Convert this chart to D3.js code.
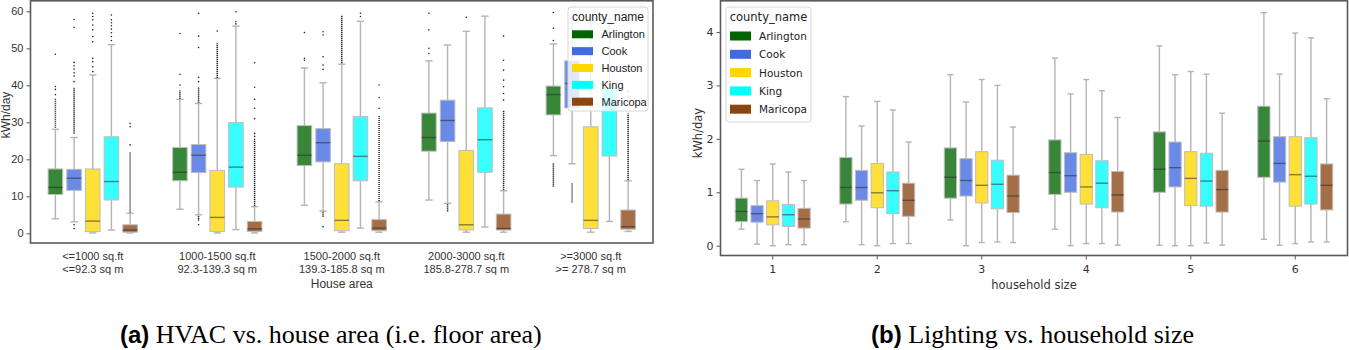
<!DOCTYPE html>
<html>
<head>
<meta charset="utf-8">
<script src="https://cdn.jsdelivr.net/npm/d3@7"></script>
<style>
  body { margin: 0; background: #fff; }
  svg { display: block; }
</style>
</head>
<body>
<svg id="fig" width="1349" height="350"></svg>
<script>
// ---- data ----
const counties = ["Arlington", "Cook", "Houston", "King", "Maricopa"];
const countyColors = ["#006400", "#4169e1", "#ffd700", "#00ffff", "#8b4513"];

// (a) HVAC vs. house area
const areaLine1 = ["<=1000 sq.ft", "1000-1500 sq.ft", "1500-2000 sq.ft", "2000-3000 sq.ft", ">=3000 sq.ft"];
const areaLine2 = ["<=92.3 sq m", "92.3-139.3 sq m", "139.3-185.8 sq m", "185.8-278.7 sq m", ">= 278.7 sq m"];
const hvacTicks = [0, 10, 20, 30, 40, 50, 60];

// [lower whisker, Q1, median, Q3, upper whisker] per house area
const hvacArlington = [[3.9, 10.5, 12.4, 17.4, 28.1], [6.5, 14.2, 16.5, 23.2, 36.2], [7.6, 18.3, 21.1, 29.1, 44.7], [9, 22.2, 25.9, 32.5, 46.6], [21, 32, 37.5, 39.8, 51.2]];
const hvacCook = [[3.1, 11.6, 14.9, 17.3, 25.9], [5, 16.4, 21.1, 24, 35.1], [6, 19.3, 24.5, 28.3, 40.7], [8.1, 24.8, 30.5, 36, 50.9], [18.8, 33.9, 40.5, 46.6, 58]];
const hvacHouston = [[0.1, 0.45, 3.3, 17.4, 42.8], [0.1, 0.5, 4.3, 17, 41.9], [0.3, 0.7, 3.5, 18.8, 45.7], [0.3, 0.9, 2.3, 22.4, 54.6], [0.3, 1.3, 3.5, 28.8, 57]];
const hvacKing = [[0.9, 9, 14, 26.1, 51], [1, 12.5, 17.9, 29.9, 56], [1.4, 14.2, 20.8, 31.6, 57.3], [1.7, 16.5, 25.3, 33.9, 58.7], [3.2, 20.9, 35, 39.3, 58]];
const hvacMaricopa = [[0.1, 0.3, 0.9, 2.3, 5.4], [0.1, 0.5, 1.2, 3.2, 7.2], [0.3, 0.7, 1.4, 3.7, 8.5], [0.3, 0.9, 1.3, 5.2, 11.5], [0.5, 1.1, 1.8, 6.3, 14.2]];

// single outliers per house area
const fliersArlington = [[48.4, 39.7, 38.9, 37.5], [54, 43, 40.1], [54.3, 47.3, 46.8], [59.5, 55, 50, 48.6], [59.7, 55.4, 52.1]];
const fliersCook = [[57.8, 55.7, 46.2, 45.3, 44.4, 43.4, 42.5, 41, 2.3, 1.3], [59.5, 53.3, 50.2, 42.2, 41, 4.5, 4.0, 3.6, 2.3], [54.5, 53.6, 47.7, 45.5, 44.3, 1.8], [], []];
const fliersHouston = [[59.5, 58.6, 57.7, 56.3, 55, 53.2, 51.8, 47.3, 46.4, 45, 43.7], [54.7], [], [58.4], []];
const fliersKing = [[59, 57.7, 56.9, 56.1, 55.2, 54.2, 53.2, 52.1], [59.9, 57.2, 56.6], [59.5, 58.6], [], []];
const fliersMaricopa = [[29.7, 28.8, 23.9], [46.1, 39.5, 36.2, 33.8, 31, 27, 26.2, 25.4], [40.1, 36.7, 33.8], [53.3, 46.8, 44.1, 41.4, 39.6, 37.8, 36], [38.3, 36.9]];

// ranges where outliers pile up into a solid column of dots
const flierRunsArlington = [[[28.5, 36.5]], [[36.4, 38.7]], [], [], [[12.6, 18.9]]];
const flierRunsCook = [[[27, 39.5]], [[35.3, 39.5]], [[4.5, 5.8]], [[5.9, 7.9]], [[8.3, 13.7]]];
const flierRunsHouston = [[], [[42, 51.4]], [[46, 59]], [], []];
const flierRunsKing = [[], [], [], [], []];
const flierRunsMaricopa = [[[5.6, 22]], [[7.4, 25.2]], [[8.7, 32]], [[11.7, 33.3]], [[14.4, 32.4]]];

// (b) Lighting vs. household size
const householdSizes = ["1", "2", "3", "4", "5", "6"];
const lightTicks = [0, 1, 2, 3, 4];
const lightArlington = [[0.31, 0.45, 0.64, 0.89, 1.43], [0.45, 0.78, 1.09, 1.65, 2.79], [0.48, 0.89, 1.28, 1.83, 3.2], [0.31, 0.96, 1.37, 1.98, 3.51], [0.01, 1.0, 1.43, 2.13, 3.74], [0.12, 1.28, 1.96, 2.61, 4.36]];
const lightCook = [[0.03, 0.44, 0.6, 0.75, 1.22], [0.02, 0.85, 1.09, 1.41, 2.24], [0, 0.93, 1.22, 1.63, 2.69], [0, 1.0, 1.31, 1.74, 2.84], [0, 1.1, 1.46, 1.94, 3.2], [0.01, 1.19, 1.54, 2.04, 3.21]];
const lightHouston = [[0, 0.39, 0.54, 0.84, 1.53], [0, 0.71, 0.99, 1.54, 2.7], [0.06, 0.8, 1.13, 1.76, 3.11], [0.04, 0.78, 1.1, 1.71, 3.11], [0, 0.75, 1.26, 1.76, 3.26], [0.04, 0.74, 1.33, 2.04, 3.98]];
const lightKing = [[0.02, 0.36, 0.58, 0.77, 1.38], [0.04, 0.6, 1.03, 1.38, 2.54], [0.07, 0.69, 1.15, 1.6, 3.0], [0.04, 0.71, 1.17, 1.59, 2.9], [0.05, 0.74, 1.21, 1.73, 3.21], [0.07, 0.78, 1.3, 2.02, 3.89]];
const lightMaricopa = [[0.02, 0.33, 0.5, 0.7, 1.22], [0.04, 0.55, 0.85, 1.17, 1.94], [0.06, 0.62, 0.93, 1.32, 2.22], [0.01, 0.63, 0.95, 1.39, 2.4], [0.01, 0.63, 1.05, 1.41, 2.48], [0.07, 0.67, 1.13, 1.53, 2.75]];

// ---- drawing ----
const fig = d3.select("#fig");
const whiskerColor = "#b4b4b4";
const frameColor = "#5a5a5a";

// one grouped box plot panel
function drawPanel(p) {
  const g = fig.append("g");
  const x = d3.scaleBand().domain(d3.range(p.nCats)).range([p.left, p.right]);
  const sub = d3.scaleBand().domain(counties)
    .range([x.bandwidth() * 0.125, x.bandwidth() * 0.875]);
  const y = d3.scaleLinear().domain(p.yDomain).range([p.bottom, p.top]);
  const bw = sub.bandwidth() * 0.78;
  const cx = (d) => x(d.i) + sub(d.c) + sub.bandwidth() / 2;

  let rows = [];
  counties.forEach((c, ci) => {
    p.stats[ci].forEach((s, i) => {
      rows.push({
        c: c, ci: ci, i: i, s: s,
        fl: p.fliers ? p.fliers[ci][i] : [],
        runs: p.runs ? p.runs[ci][i] : []
      });
    });
  });

  const box = g.selectAll("g.box").data(rows).join("g").attr("class", "box");

  // whiskers + caps
  box.append("line")
    .attr("x1", cx).attr("x2", cx)
    .attr("y1", (d) => y(d.s[0])).attr("y2", (d) => y(d.s[1]))
    .attr("stroke", whiskerColor).attr("stroke-width", 1.4);
  box.append("line")
    .attr("x1", cx).attr("x2", cx)
    .attr("y1", (d) => y(d.s[3])).attr("y2", (d) => y(d.s[4]))
    .attr("stroke", whiskerColor).attr("stroke-width", 1.4);
  [0, 4].forEach((k) => {
    box.append("line")
      .attr("x1", (d) => cx(d) - bw / 4).attr("x2", (d) => cx(d) + bw / 4)
      .attr("y1", (d) => y(d.s[k])).attr("y2", (d) => y(d.s[k]))
      .attr("stroke", whiskerColor).attr("stroke-width", 1.4);
  });

  // boxes
  box.append("rect")
    .attr("x", (d) => cx(d) - bw / 2)
    .attr("y", (d) => y(d.s[3]))
    .attr("width", bw)
    .attr("height", (d) => y(d.s[1]) - y(d.s[3]))
    .attr("fill", (d) => countyColors[d.ci])
    .attr("fill-opacity", 0.78)
    .attr("stroke", "#bdbdbd")
    .attr("stroke-width", 1);

  // medians
  box.append("line")
    .attr("x1", (d) => cx(d) - bw / 2).attr("x2", (d) => cx(d) + bw / 2)
    .attr("y1", (d) => y(d.s[2])).attr("y2", (d) => y(d.s[2]))
    .attr("stroke", "#2a2a2a").attr("stroke-opacity", 0.55).attr("stroke-width", 1.4);

  // outliers
  box.selectAll("line.run").data((d) => d.runs.map((r) => ({ r: r, d: d })))
    .join("line").attr("class", "run")
    .attr("x1", (e) => cx(e.d)).attr("x2", (e) => cx(e.d))
    .attr("y1", (e) => y(e.r[0])).attr("y2", (e) => y(e.r[1]))
    .attr("stroke", "#1a1a1a").attr("stroke-width", 1.5)
    .attr("stroke-dasharray", "1.2,0.8");
  box.selectAll("circle").data((d) => d.fl.map((v) => ({ v: v, d: d })))
    .join("circle")
    .attr("cx", (e) => cx(e.d)).attr("cy", (e) => y(e.v))
    .attr("r", 0.8).attr("fill", "#222");

  // y axis
  const yAxis = g.append("g")
    .attr("transform", `translate(${p.left},0)`)
    .call(d3.axisLeft(y).tickValues(p.ticks).tickFormat(d3.format("d"))
      .tickSize(4).tickPadding(3));
  yAxis.select(".domain").remove();
  yAxis.selectAll("line").attr("stroke", frameColor);
  yAxis.selectAll("text")
    .attr("font-family", p.font).attr("font-size", p.tickSize).attr("fill", "#333");

  // x axis
  const xAxis = g.append("g")
    .attr("transform", `translate(0,${p.bottom})`)
    .call(d3.axisBottom(x).tickSize(p.xTickMarks ? 4 : 0).tickPadding(p.xPad)
      .tickFormat((i) => p.catLines[0][i]));
  xAxis.select(".domain").remove();
  xAxis.selectAll("line").attr("stroke", frameColor);
  xAxis.selectAll("text")
    .attr("font-family", p.font).attr("font-size", p.tickSize).attr("fill", "#333");
  if (p.catLines.length > 1) {
    xAxis.selectAll(".tick").append("text")
      .attr("y", p.line2Y).attr("fill", "#333")
      .attr("font-family", p.font).attr("font-size", p.tickSize)
      .attr("text-anchor", "middle")
      .text((i) => p.catLines[1][i]);
  }

  // frame
  g.append("rect")
    .attr("x", p.left).attr("y", p.top)
    .attr("width", p.right - p.left).attr("height", p.bottom - p.top)
    .attr("fill", "none").attr("stroke", frameColor).attr("stroke-width", 1.6);

  // axis titles
  g.append("text")
    .attr("transform", `translate(${p.yTitleX},${p.yTitleY}) rotate(-90)`)
    .attr("text-anchor", "middle")
    .attr("font-family", p.font).attr("font-size", p.titleSize).attr("fill", "#333")
    .text("kWh/day");
  g.append("text")
    .attr("x", (p.left + p.right) / 2).attr("y", p.xTitleY)
    .attr("text-anchor", "middle")
    .attr("font-family", p.font).attr("font-size", p.titleSize).attr("fill", "#333")
    .text(p.xTitle);

  // legend
  const L = p.legend;
  const lg = g.append("g");
  lg.append("rect")
    .attr("x", L.x).attr("y", L.y).attr("width", L.w).attr("height", L.h)
    .attr("rx", 3)
    .attr("fill", "#fff").attr("fill-opacity", 0.8)
    .attr("stroke", "#d6d6d6");
  lg.append("text")
    .attr("x", L.x + L.w / 2).attr("y", L.titleY + 4)
    .attr("text-anchor", "middle")
    .attr("font-family", p.font).attr("font-size", L.titleSize).attr("fill", "#222")
    .text("county_name");
  const item = lg.selectAll("g.item").data(counties).join("g").attr("class", "item")
    .attr("transform", (d, i) => `translate(0,${L.rowY + i * L.rowStep})`);
  item.append("rect")
    .attr("x", L.patchX).attr("y", -L.patchH / 2)
    .attr("width", 21).attr("height", L.patchH)
    .attr("fill", (d, i) => countyColors[i]);
  item.append("text")
    .attr("x", L.textX).attr("y", 4)
    .attr("font-family", p.font).attr("font-size", L.labelSize).attr("fill", "#222")
    .text((d) => d);
}

drawPanel({
  nCats: areaLine1.length,
  catLines: [areaLine1, areaLine2],
  left: 30.5, right: 653, top: 0.8, bottom: 243,
  yDomain: [-2.62, 62.85],
  ticks: hvacTicks,
  stats: [hvacArlington, hvacCook, hvacHouston, hvacKing, hvacMaricopa],
  fliers: [fliersArlington, fliersCook, fliersHouston, fliersKing, fliersMaricopa],
  runs: [flierRunsArlington, flierRunsCook, flierRunsHouston, flierRunsKing, flierRunsMaricopa],
  font: "Liberation Sans, Arial, sans-serif",
  tickSize: 11, titleSize: 12,
  xTickMarks: false, xPad: 9.5, line2Y: 29.5,
  xTitle: "House area", xTitleY: 288,
  yTitleX: 10, yTitleY: 115,
  legend: { x: 568, y: 7, w: 80, h: 104, titleY: 17, rowY: 34.3, rowStep: 16.85,
            patchX: 572, patchH: 8, textX: 601.5, titleSize: 12, labelSize: 11 }
});

drawPanel({
  nCats: householdSizes.length,
  catLines: [householdSizes],
  left: 720.5, right: 1347.5, top: 0.8, bottom: 255.5,
  yDomain: [-0.183, 4.583],
  ticks: lightTicks,
  stats: [lightArlington, lightCook, lightHouston, lightKing, lightMaricopa],
  font: "DejaVu Sans, sans-serif",
  tickSize: 11, titleSize: 11.5,
  xTickMarks: true, xPad: 6,
  xTitle: "household size", xTitleY: 289,
  yTitleX: 702, yTitleY: 133,
  legend: { x: 726, y: 7, w: 85, h: 115, titleY: 17.3, rowY: 36, rowStep: 18.3,
            patchX: 730, patchH: 9, textX: 759, titleSize: 11.5, labelSize: 10.5 }
});

// captions
const captions = [
  { x: 120, tag: "(a)", text: "HVAC vs. house area (i.e. floor area)" },
  { x: 871, tag: "(b)", text: "Lighting vs. household size" }
];
const cap = fig.selectAll("text.caption").data(captions).join("text")
  .attr("class", "caption")
  .attr("x", (d) => d.x).attr("y", 343)
  .attr("fill", "#000");
cap.append("tspan")
  .attr("font-family", "Liberation Sans, Arial, sans-serif")
  .attr("font-weight", "bold").attr("font-size", 24)
  .text((d) => d.tag);
cap.append("tspan")
  .attr("font-family", "Liberation Serif, Times New Roman, serif")
  .attr("font-size", 26)
  .text((d) => " " + d.text);
</script>
</body>
</html>
